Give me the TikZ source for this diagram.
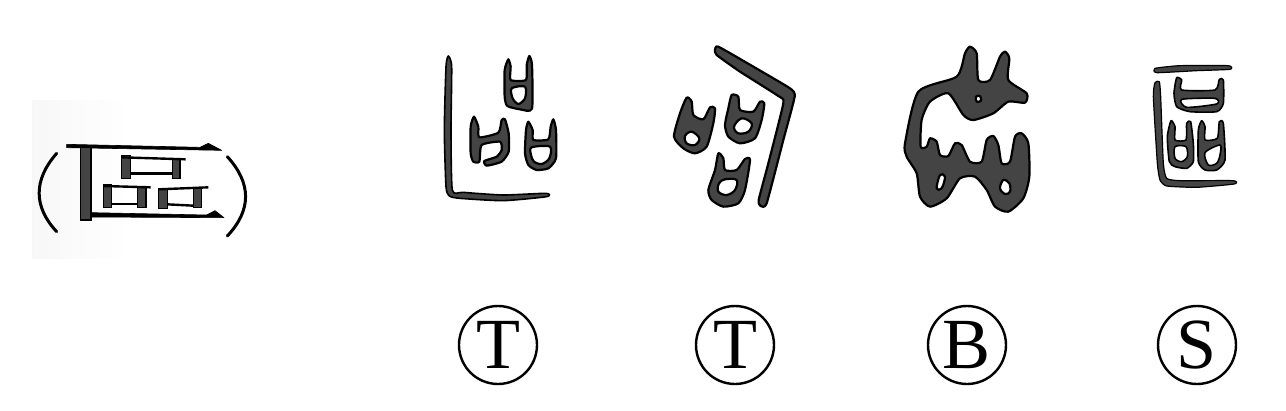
\documentclass[tikz,border=0pt]{standalone}
\usepackage{fontspec}
\setmainfont{Liberation Serif}
\definecolor{ink}{HTML}{444444}
\begin{document}
\begin{tikzpicture}[x=1pt,y=-1pt,
  main node/.style={circle,draw,line width=2.4pt,minimum size=78pt,inner sep=0pt,font=\fontsize{72}{72}\selectfont},
  glyph/.style={fill=ink,draw=black,line width=2.2pt,even odd rule,line join=round},
  thin stroke/.style={fill=black,draw=black,line width=.6pt,line join=round},
  post/.style={fill=ink,draw=black,line width=1.4pt},
  bar/.style={draw=black,line width=2.4pt},
  paren/.style={draw=black,line width=3pt,line cap=round}]

  \useasboundingbox (0,0) rectangle (1286,410);
  \fill[left color=black!3,right color=white] (32,100) rectangle (130,258);

  % bracketed form on the left
  \begin{scope}[shift={(20,90)},scale=1/3]
    \draw[paren] (110,190) .. controls (40,270) and (40,350) .. (110,425);
    \draw[paren] (622,200) .. controls (695,280) and (695,360) .. (622,438);
    \fill[thin stroke] (140,163) -- (540,172) -- (565,160) -- (605,181) -- (140,173) -- cycle;
    \fill[thin stroke] (215,368) -- (560,375) -- (585,362) -- (612,383) -- (215,381) -- cycle;
    \draw[post] (182,172) rectangle (213,390);

    \draw[post] (305,197) rectangle (332,265);
    \draw[post] (457,205) rectangle (480,265);
    \draw[bar] (305,202) -- (497,208);
    \draw[bar] (332,251) -- (457,251);

    \draw[post] (250,285) rectangle (275,352);
    \draw[post] (352,290) rectangle (378,352);
    \draw[bar] (250,288) -- (392,292);
    \draw[bar] (275,342) -- (352,342);

    \draw[post] (415,297) rectangle (442,355);
    \draw[post] (520,295) rectangle (545,352);
    \draw[bar] (415,298) -- (565,292);
    \draw[bar] (442,343) -- (520,347);
  \end{scope}

  % first two forms
  \begin{scope}[shift={(420,30)},scale=1/3]
    \draw[glyph,line width=1.6pt] plot[smooth cycle,tension=.35] coordinates {(85,78) (95,110) (93,300) (97,480) (130,487) (250,495) (378,490) (380,500) (250,512) (120,505) (88,498) (78,470) (73,300) (78,110)};
    \draw[glyph] plot[smooth cycle,tension=.35] coordinates {(265,88) (272,110) (272,150) (318,150) (320,105) (328,78) (336,105) (336,236) (300,238) (262,228) (254,200) (254,120)}
      plot[smooth cycle,tension=.5] coordinates {(275,175) (315,170) (315,205) (295,222) (278,205)};
    \draw[glyph] plot[smooth cycle,tension=.35] coordinates {(162,260) (175,290) (178,322) (235,308) (245,270) (255,268) (266,310) (266,365) (245,395) (200,407) (193,393) (230,380) (245,360) (240,335) (185,345) (178,395) (160,395) (152,370) (152,290)};
    \draw[glyph] plot[smooth cycle,tension=.35] coordinates {(325,275) (338,300) (340,330) (385,328) (392,290) (400,268) (408,300) (408,385) (385,415) (350,420) (325,405) (315,370) (318,300)}
      plot[smooth cycle,tension=.5] coordinates {(335,352) (390,350) (388,385) (365,402) (342,395) (333,375)};

    \draw[glyph] plot[smooth cycle,tension=.3] coordinates {(895,50) (1000,110) (1110,175) (1124,200) (1090,330) (1040,520) (1022,528) (1016,510) (1045,400) (1090,220) (1075,198) (960,125) (890,75) (885,60)};
    \draw[glyph] plot[smooth cycle,tension=.4] coordinates {(800,203) (815,215) (820,255) (850,268) (870,232) (885,235) (880,280) (860,350) (825,370) (790,355) (762,320) (780,250)}
      plot[smooth cycle,tension=.6] coordinates {(815,305) (838,325) (825,345) (800,340) (795,318)};
    \draw[glyph] plot[smooth cycle,tension=.4] coordinates {(935,195) (955,200) (960,240) (1000,245) (1020,215) (1033,220) (1025,270) (1005,325) (960,340) (925,320) (915,285) (925,235)}
      plot[smooth cycle,tension=.6] coordinates {(965,265) (995,280) (985,305) (955,310) (942,290)};
    \draw[glyph] plot[smooth cycle,tension=.4] coordinates {(895,370) (910,385) (915,420) (950,420) (975,387) (990,390) (975,480) (955,520) (910,530) (875,510) (865,480) (885,420)}
      plot[smooth cycle,tension=.6] coordinates {(915,448) (950,450) (945,480) (920,495) (895,485) (897,460)};
  \end{scope}

  % last two forms
  \begin{scope}[shift={(880,30)},scale=1/3]
    \draw[glyph] plot[smooth cycle,tension=.4] coordinates {(270,50) (290,70) (295,150) (330,150) (360,80) (375,65) (388,85) (385,150) (440,190) (435,218) (385,215) (340,250) (280,270) (250,255) (205,190) (150,215) (125,270) (122,350) (140,350) (150,325) (170,335) (180,375) (205,378) (225,340) (245,345) (270,395) (305,395) (320,330) (340,318) (355,345) (365,400) (390,395) (405,320) (425,310) (445,340) (448,440) (430,505) (385,545) (345,530) (320,480) (285,440) (240,445) (200,505) (150,530) (120,500) (110,430) (80,380) (75,340) (115,185) (230,140) (255,70)}
      plot[smooth cycle,tension=.6] coordinates {(180,435) (195,440) (185,475) (170,475)}
      plot[smooth cycle,tension=.6] coordinates {(370,450) (388,460) (390,485) (375,492) (360,475)}
      plot[smooth cycle,tension=.6] coordinates {(288,200) (300,198) (303,212) (290,215)};

    \draw[glyph,line width=1.2pt] plot[smooth cycle,tension=.3] coordinates {(825,115) (900,107) (1045,107) (1050,118) (950,122) (830,128)};
    \draw[glyph,line width=1.2pt] plot[smooth cycle,tension=.3] coordinates {(825,158) (838,155) (842,200) (850,400) (860,445) (900,452) (1060,452) (1063,462) (950,472) (860,468) (840,450) (832,400) (820,200)};
    \draw[glyph,line width=1.6pt] plot[smooth cycle,tension=.35] coordinates {(890,143) (905,150) (905,180) (1005,180) (1018,148) (1030,150) (1030,220) (1010,245) (930,245) (890,230) (882,190)}
      plot[smooth cycle,tension=.4] coordinates {(905,208) (1005,205) (1010,222) (920,232)};
    \draw[glyph,line width=1.6pt] plot[smooth cycle,tension=.35] coordinates {(873,272) (885,290) (885,330) (918,330) (920,280) (932,275) (940,340) (940,395) (920,415) (885,410) (868,395) (862,320)}
      plot[smooth cycle,tension=.5] coordinates {(885,350) (918,350) (922,380) (905,395) (885,385)};
    \draw[glyph,line width=1.6pt] plot[smooth cycle,tension=.35] coordinates {(965,272) (975,290) (975,330) (1012,325) (1018,275) (1030,280) (1035,390) (1010,420) (975,420) (955,395) (955,300)}
      plot[smooth cycle,tension=.5] coordinates {(975,368) (1020,345) (1020,375) (1010,400) (985,405)};
  \end{scope}

  \node[main node] (tone) at (498,345) {T};
  \node[main node] (ttwo) at (735,345) {T};
  \node[main node] (bone) at (967,345) {B};
  \node[main node] (sone) at (1197,345) {S};
\end{tikzpicture}
\end{document}
